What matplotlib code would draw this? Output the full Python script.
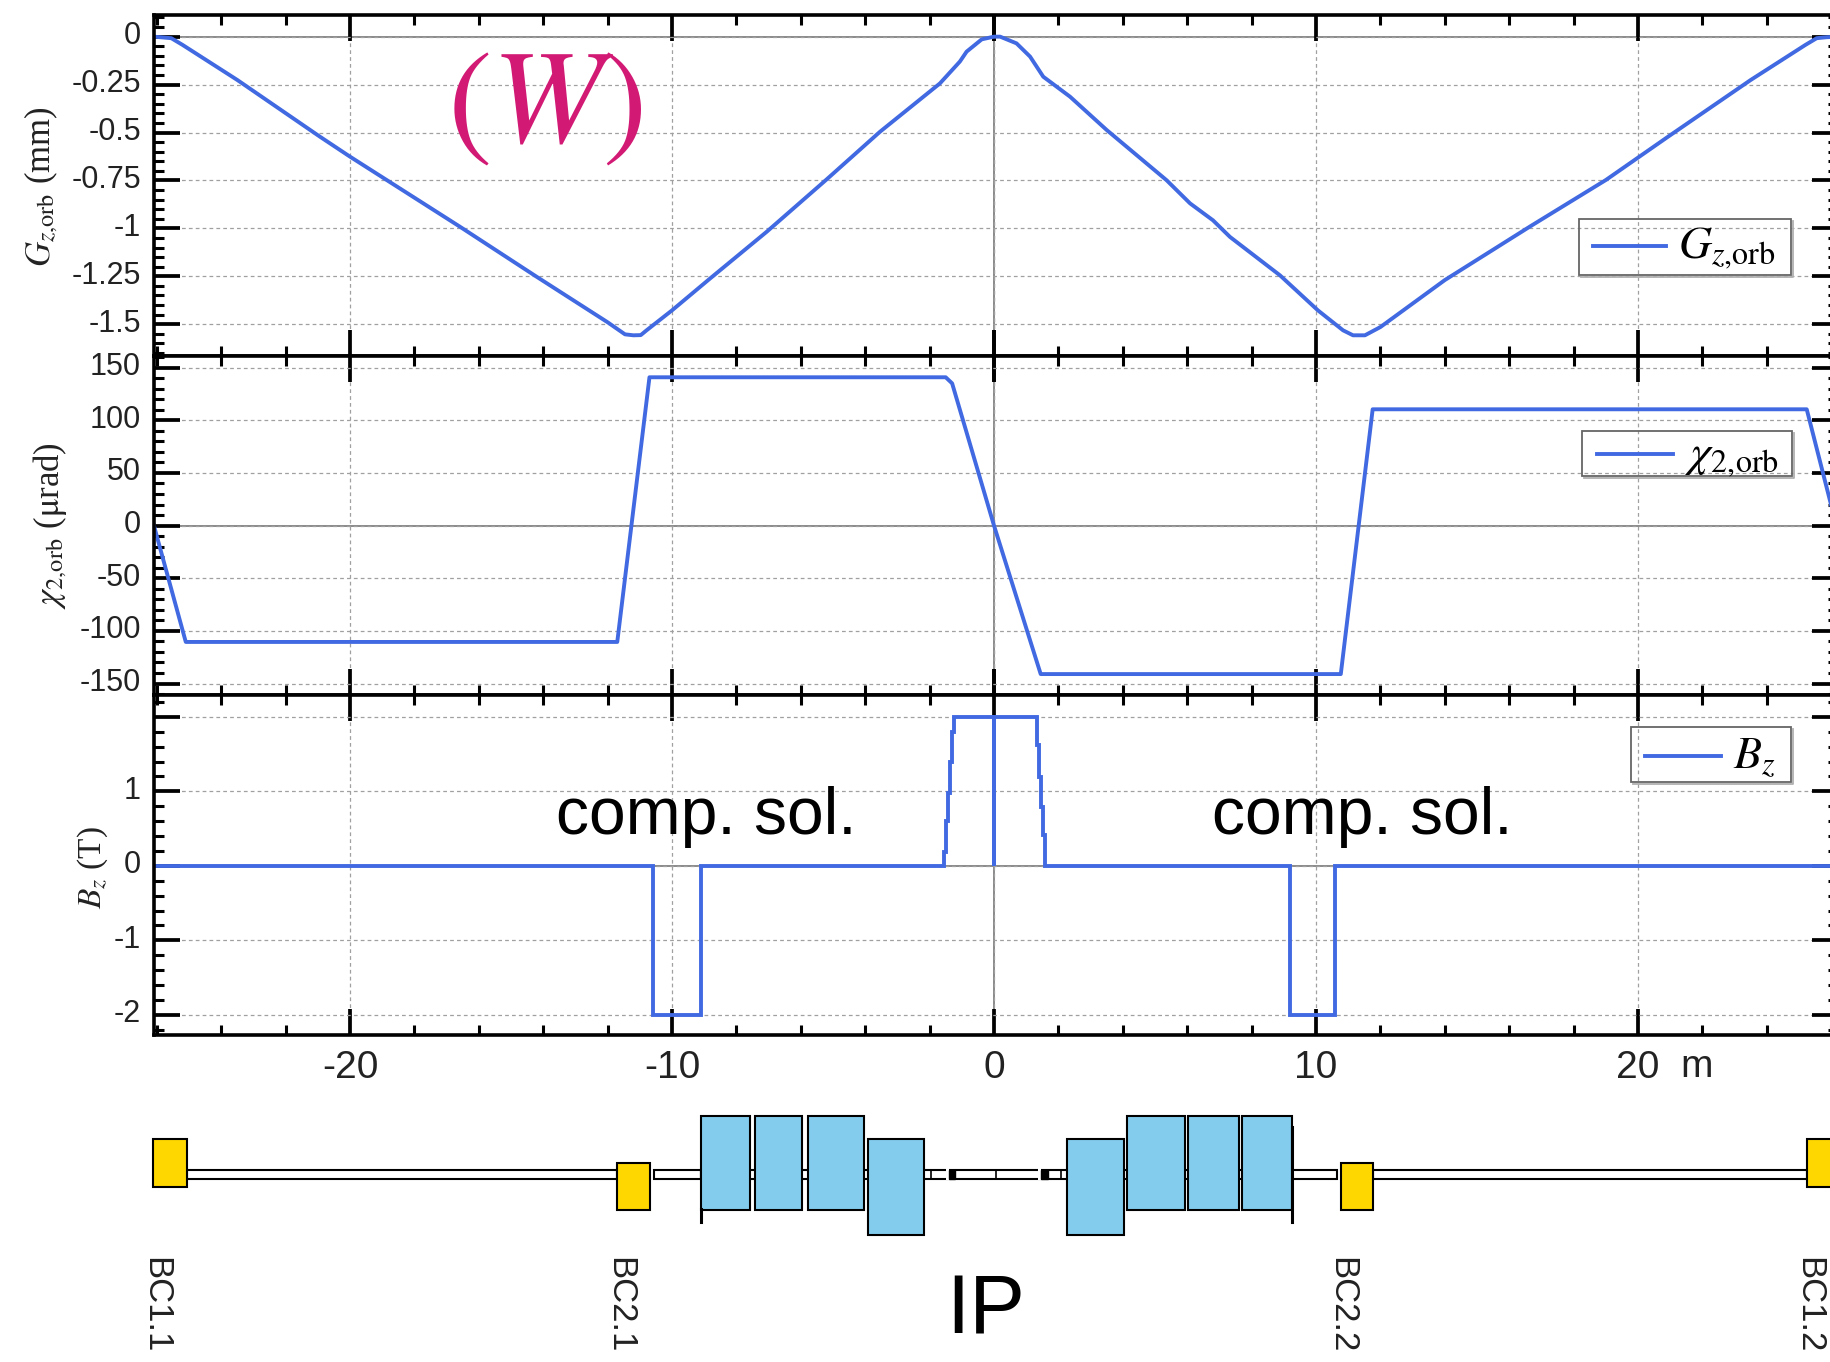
import matplotlib
matplotlib.use("Agg")
import matplotlib.pyplot as plt
from matplotlib.patches import Rectangle
from matplotlib.ticker import FixedLocator, MultipleLocator, NullFormatter
from matplotlib.transforms import ScaledTranslation

plt.rcParams['font.family'] = ['Liberation Sans', 'DejaVu Sans']
plt.rcParams['mathtext.fontset'] = 'stix'
plt.rcParams['axes.unicode_minus'] = False

# --- data ---
gz_s = [-26.09, -25.55, -25.2, -23.5, -20.95, -20.0, -16.6, -14.2, -12.0, -11.46, -11.2, -10.97, -10.79, -10.0,
        -8.82, -7.06, -5.2, -3.54, -1.68, -1.06, -0.85, -0.38, 0.0, 0.19, 0.7, 1.12, 1.53, 2.36, 3.5, 5.36,
        6.09, 6.8, 7.33, 8.88, 10.06, 10.84, 11.15, 11.52, 12.0, 14.0, 16.65, 19.0, 20.95, 23.5, 25.2, 25.55, 25.85, 26.2]
gz_val = [0.0, -0.008, -0.043, -0.226, -0.52, -0.626, -0.99, -1.253, -1.49, -1.553, -1.558, -1.557, -1.532, -1.428,
          -1.262, -1.018, -0.745, -0.496, -0.244, -0.13, -0.078, -0.014, 0.0, 0.0, -0.035, -0.104, -0.209, -0.313, -0.487, -0.749,
          -0.87, -0.958, -1.045, -1.245, -1.428, -1.532, -1.558, -1.558, -1.515, -1.27, -0.99, -0.748, -0.52, -0.226, -0.043, -0.008, -0.003, 0.0]

chi_s = [-26.09, -25.1, -11.7, -10.7, -1.5, -1.3, 0.0, 1.45, 10.77, 11.76, 25.24, 26.16]
chi_val = [0.0, -110.5, -110.5, 140.8, 140.8, 135.0, 0.0, -141.0, -141.0, 110.4, 110.4, 0.0]

bz_s = [-26.09, -10.6, -10.6, -9.1, -9.1, -1.54, -1.54, -1.49, -1.49, -1.44, -1.44, -1.37, -1.37, -1.31, -1.31, -1.24, -1.24,
        0.0, 0.0, 0.0, 1.345, 1.345, 1.41, 1.41, 1.47, 1.47, 1.53, 1.53, 1.58, 1.58, 9.18, 9.18, 10.6, 10.6, 26.2]
bz_val = [0.0, 0.0, -2.0, -2.0, 0.0, 0.0, 0.19, 0.19, 0.6, 0.6, 0.98, 0.98, 1.4, 1.4, 1.8, 1.8, 2.0,
          2.0, 0.0, 2.0, 2.0, 1.62, 1.62, 1.19, 1.19, 0.79, 0.79, 0.41, 0.41, 0.0, 0.0, -2.0, -2.0, 0.0, 0.0]

gz_ticks = [0, -0.25, -0.5, -0.75, -1, -1.25, -1.5]
gz_labels = ['0', '-0.25', '-0.5', '-0.75', '-1', '-1.25', '-1.5']
chi_ticks = [150, 100, 50, 0, -50, -100, -150]
bz_ticks = [2, 1, 0, -1, -2]
bz_labels = ['', '1', '0', '-1', '-2']
s_ticks = [-20, -10, 0, 10, 20]

# beamline layout, s in m
yellow_s = [(-26.12, -25.07), (-11.70, -10.67), (10.77, 11.77), (25.25, 26.5)]
yellow_names = ['BC1.1', 'BC2.1', 'BC2.2', 'BC1.2']
blue_high = [(-9.10, -7.59), (-7.43, -5.96), (-5.79, -4.05), (4.13, 5.93), (6.02, 7.60), (7.69, 9.25)]
blue_low = [(-3.90, -2.16), (2.26, 4.04)]
pipes = [(-25.07, -11.70), (-10.56, -9.10), (-9.10, 9.25), (9.25, 10.65), (11.77, 25.25)]
pipe_gaps = [(-1.50, -1.41), (1.37, 1.46)]
pipe_dark = [(-1.41, -1.21), (1.46, 1.68)]
pipe_div = [-1.96, 0.06, 2.08]

W, H = 1830, 1362
X0, X1 = 153.5, 1838
BLUE = '#4169E1'
S_SCALE = 32.2
S_ZERO = 994


def add_axes_px(top, bottom, xlim, ylim):
    ax = fig.add_axes([X0 / W, 1 - bottom / H, (X1 - X0) / W, (bottom - top) / H])
    ax.set_xlim(*xlim)
    ax.set_ylim(*ylim)
    return ax


def style_axes(ax, yticks, ylabels, yminor):
    for sp in ax.spines.values():
        sp.set_linewidth(2.6)
    ax.xaxis.set_major_locator(FixedLocator(s_ticks + [0]))
    ax.xaxis.set_minor_locator(MultipleLocator(2))
    ax.xaxis.set_minor_formatter(NullFormatter())
    ax.set_yticks(yticks)
    ax.set_yticklabels(ylabels)
    ax.yaxis.set_minor_locator(MultipleLocator(yminor))
    ax.tick_params(which='major', direction='in', top=True, right=True, length=19, width=2.7, pad=9, labelsize=22, labelcolor='#222222')
    ax.tick_params(which='minor', direction='in', top=True, right=True, length=7, width=2.2)
    ax.tick_params(axis='x', which='major', labelbottom=False)
    ax.grid(True, which='major', color='#A0A0A0', lw=0.9, ls=(0, (3, 2.5)))
    ax.axhline(0, color='#777777', lw=1.2, zorder=0.45)
    ax.axvline(0, color='#777777', lw=1.2, zorder=0.45)
    ax.set_axisbelow(True)


def add_legend(ax, line, label, box, handle_left, handle_y, handle_len):
    # the original legend box is see-through with a thin shadow on two sides
    x0, x1, y0, y1 = box
    tr = fig.transFigure
    ax.add_patch(Rectangle((x0 / W, 1 - y1 / H), (x1 - x0) / W, (y1 - y0) / H, transform=tr, fc='none',
                           ec='#666666', lw=1.3, zorder=4, clip_on=False))
    ax.plot([(x0 + 2) / W, (x1 + 2) / W, (x1 + 2) / W], [1 - (y1 + 2) / H, 1 - (y1 + 2) / H, 1 - (y0 + 2) / H],
            transform=tr, color='#B0B0B0', lw=1.3, zorder=3.9, clip_on=False)
    ax.legend([line], [label], loc='center left', bbox_to_anchor=(handle_left / W, 1 - handle_y / H),
              bbox_transform=tr, borderaxespad=0, frameon=False, handlelength=handle_len, handletextpad=0.26,
              handleheight=0.05, borderpad=0, prop={'family': 'Liberation Serif', 'size': 33})


fig = plt.figure(figsize=(W / 100, H / 100), dpi=100)
xlim = ((X0 - S_ZERO) / S_SCALE, (X1 - S_ZERO) / S_SCALE)

ax1 = add_axes_px(15, 356, xlim, (-1.666, 0.113))
ax2 = add_axes_px(356, 694.5, xlim, (-160.4, 161.0))
ax3 = add_axes_px(694.5, 1035, xlim, (-2.27, 2.30))

style_axes(ax1, gz_ticks, gz_labels, 0.05)
style_axes(ax2, chi_ticks, [str(t) for t in chi_ticks], 10)
style_axes(ax3, bz_ticks, bz_labels, 0.2)

line1, = ax1.plot(gz_s, gz_val, color=BLUE, lw=2.8)
line2, = ax2.plot(chi_s, chi_val, color=BLUE, lw=2.8)
line3, = ax3.plot(bz_s, bz_val, color=BLUE, lw=2.8, solid_joinstyle='miter')

add_legend(ax1, line1, r'$G_{z{,}\mathrm{orb}}$', (1579, 1791, 219, 275), 1593, 248, 1.6)
add_legend(ax2, line2, r'$\chi_{2{,}\mathrm{orb}}$', (1582, 1792, 431, 476), 1597, 456, 1.66)
add_legend(ax3, line3, r'$B_{z}$', (1631, 1791, 727, 782), 1645, 757, 1.66)

ax3.tick_params(axis='x', which='major', labelbottom=True, labelsize=28, pad=11)
ax3.set_xticks(s_ticks)
ax3.set_xticklabels([str(t) for t in s_ticks])
ax3.annotate('m', xy=(21.3, 0), xycoords=('data', 'axes fraction'), xytext=(0, -30),
             textcoords='offset points', va='baseline', ha='left', fontsize=28, color='#222222')

# y tick labels sit a little above their ticks in the original
raise_labels = ScaledTranslation(0, 3 / 72, fig.dpi_scale_trans)
for ax in (ax1, ax2, ax3):
    for lab in ax.get_yticklabels():
        lab.set_transform(lab.get_transform() + raise_labels)

ax1.text(545 / W, 1 - 107 / H, r'$(W)$', transform=fig.transFigure, color='#D21A75', fontsize=96, ha='center', va='center')
ax3.text(-8.94, 0.43, 'comp. sol.', fontsize=47.5, ha='center', va='baseline', color='black')
ax3.text(11.43, 0.43, 'comp. sol.', fontsize=47.5, ha='center', va='baseline', color='black')

fig.text(41 / W, 1 - 187 / H, r'$G_{z{,}\mathrm{orb}}$ (mm)', rotation=90, ha='center', va='center',
         family='Liberation Serif', fontsize=25, color='#222222')
fig.text(50 / W, 1 - 526 / H, r'$\chi_{2{,}\mathrm{orb}}$ ($\mathrm{\mu}$rad)', rotation=90, ha='center', va='center',
         family='Liberation Serif', fontsize=25, color='#222222')
fig.text(93 / W, 1 - 868 / H, r'$B_{z}$ (T)', rotation=90, ha='center', va='center',
         family='Liberation Serif', fontsize=24, color='#222222')

# beamline schematic, y in pixels of the picture
axb = fig.add_axes([0, 0, 1, 1 - 1090 / H])
axb.set_xlim((0 - S_ZERO) / S_SCALE, (W - S_ZERO) / S_SCALE)
axb.set_ylim(H, 1090)
axb.axis('off')

for a, b in pipes:
    axb.add_patch(Rectangle((a, 1169.5), b - a, 9.5, fc='white', ec='black', lw=1.5, zorder=1))
for a, b in pipe_gaps:
    axb.add_patch(Rectangle((a, 1168), b - a, 12, fc='white', ec='none', zorder=2))
for a, b in pipe_dark:
    axb.add_patch(Rectangle((a, 1169.5), b - a, 9.5, fc='black', ec='black', lw=1, zorder=3))
for s in pipe_div:
    axb.plot([s, s], [1169.5, 1179], color='black', lw=1.2, zorder=3)
for a, b in blue_high:
    axb.add_patch(Rectangle((a, 1116), b - a, 93.5, fc='#83CCEE', ec='black', lw=1.5, zorder=4))
for a, b in blue_low:
    axb.add_patch(Rectangle((a, 1139), b - a, 95.5, fc='#83CCEE', ec='black', lw=1.5, zorder=4))
for i, (a, b) in enumerate(yellow_s):
    if i in (0, 3):
        top, bot = 1139, 1187
    else:
        top, bot = 1163, 1209.5
    axb.add_patch(Rectangle((a, top), b - a, bot - top, fc='#FFD700', ec='black', lw=1.5, zorder=4))
axb.plot([blue_high[0][0]] * 2, [1209, 1222], color='black', lw=2.2, zorder=5)
axb.plot([blue_high[-1][1]] * 2, [1127, 1222], color='black', lw=2.2, zorder=5)

for name, sx in zip(yellow_names, [161, 625, 1347, 1814]):
    fig.text((sx - 5) / W, 1 - 1257 / H, name, rotation=270, ha='center', va='top', fontsize=25, color='#222222')
fig.text(986 / W, 1 - 1333 / H, 'IP', ha='center', va='baseline', fontsize=60, color='black')

fig.savefig('out.png', dpi=100)
